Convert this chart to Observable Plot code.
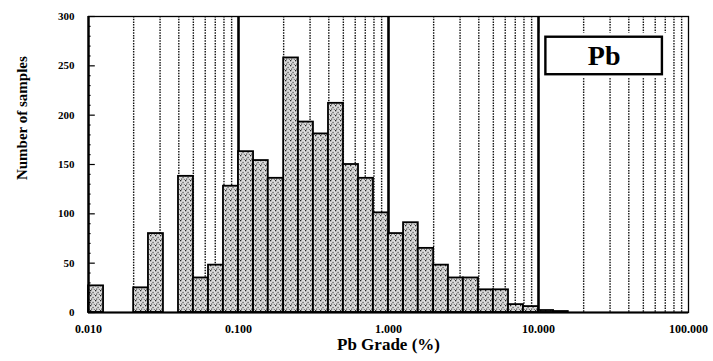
<!DOCTYPE html>
<html>
<head>
<meta charset="utf-8">
<script src="https://cdn.jsdelivr.net/npm/d3@7"></script>
<script src="https://cdn.jsdelivr.net/npm/@observablehq/plot@0.6"></script>
<style>
  html, body { margin: 0; padding: 0; background: #fff; }
</style>
</head>
<body>
<div id="chart"></div>
<script>
// Histogram bins (Pb grade, %): lower and upper edges, counts
const binLow  = [0.0100,0.0126,0.0158,0.0200,0.0251,0.0316,0.0398,0.0501,0.0631,0.0794,
                 0.100,0.126,0.158,0.200,0.251,0.316,0.398,0.501,0.631,0.794,
                 1.00,1.26,1.58,2.00,2.51,3.16,3.98,5.01,6.31,7.94,
                 10.0,12.6];
const binHigh = [0.0126,0.0158,0.0200,0.0251,0.0316,0.0398,0.0501,0.0631,0.0794,0.100,
                 0.126,0.158,0.200,0.251,0.316,0.398,0.501,0.631,0.794,1.00,
                 1.26,1.58,2.00,2.51,3.16,3.98,5.01,6.31,7.94,10.0,
                 12.6,15.8];
const counts  = [27,0,0,25,80,0,138,35,48,128,
                 163,154,136,258,193,181,212,150,136,101,
                 80,91,65,48,35,35,23,23,8,6,
                 2,1];

const xMajorTicks = [0.01, 0.1, 1, 10, 100];
const xTickLabels = ["0.010", "0.100", "1.000", "10.000", "100.000"];
const xMinorGrid = [0.02,0.03,0.04,0.05,0.06,0.07,0.08,0.09,
                    0.2,0.3,0.4,0.5,0.6,0.7,0.8,0.9,
                    2,3,4,5,6,7,8,9,
                    20,30,40,50,60,70,80,90];
const xMajorGrid = [0.1, 1, 10];
const yTicks = [0, 50, 100, 150, 200, 250, 300];
const yMinorTicks = [10,20,30,40,60,70,80,90,110,120,130,140,160,170,180,190,210,220,230,240,260,270,280,290];

const bins = binLow.map((lo, i) => ({lo, hi: binHigh[i], n: counts[i]})).filter(d => d.n > 0);

// Label box annotation (data units)
const labelText = ["Pb"];
const labelBg = [{x1: 10.3, x2: 77, y1: 237, y2: 283}];
const labelBox = [{x1: 11.2, x2: 67, y1: 241, y2: 279}];

const plot = Plot.plot({
  width: 713,
  height: 361,
  marginLeft: 88,
  marginRight: 25,
  marginTop: 16,
  marginBottom: 49,
  style: {fontFamily: "'Liberation Serif', serif", fontWeight: "bold", fontSize: "11px", background: "#fff", color: "#000"},
  x: {type: "log", domain: [0.01, 100], axis: null},
  y: {domain: [0, 300], axis: null},
  marks: [
    Plot.ruleX(xMinorGrid, {stroke: "#111", strokeWidth: 1.4, strokeDasharray: "1.5,1.2"}),
    Plot.ruleX(xMajorGrid, {stroke: "#000", strokeWidth: 2.6}),
    Plot.rect(labelBg, {x1: "x1", x2: "x2", y1: "y1", y2: "y2", fill: "#fff"}),
    Plot.rect(labelBox, {x1: "x1", x2: "x2", y1: "y1", y2: "y2", fill: "#fff", stroke: "#000", strokeWidth: 2.4}),
    Plot.text(labelText, {x: Math.sqrt(11.2 * 67), y: 260, text: d => d, fontSize: 28, fontWeight: "bold", fill: "#000"}),
    Plot.rect(bins, {x1: "lo", x2: "hi", y1: 0, y2: "n", fill: "url(#stipple)", stroke: "#000", strokeWidth: 1.8}),
    Plot.frame({stroke: "#000", strokeWidth: 1.3}),
    Plot.ruleX([0.01], {stroke: "#000", strokeWidth: 2.4}),
    Plot.ruleY([0], {stroke: "#000", strokeWidth: 2}),
    Plot.ruleY(yMinorTicks, {x1: 0.01, x2: 0.0104, stroke: "#000", strokeWidth: 1.2}),
    Plot.ruleY(yTicks, {x1: 0.01, x2: 0.0111, stroke: "#000", strokeWidth: 1.2}),
    Plot.axisY(yTicks, {anchor: "left", tickSize: 0, tickPadding: 14, fontSize: 11, fontWeight: "bold", label: null}),
    Plot.axisX(xMajorTicks, {anchor: "bottom", tickSize: 0, tickPadding: 12, fontSize: 12, fontWeight: "bold",
      tickFormat: d => xTickLabels[xMajorTicks.indexOf(d)], label: null}),
    Plot.text(["Number of samples"], {frameAnchor: "left", y: 197, rotate: -90, dx: -66, textAnchor: "middle",
      fontSize: 15, fontWeight: "bold", letterSpacing: 2, fill: "#000"}),
    Plot.text(["Pb Grade (%)"], {frameAnchor: "bottom", dy: 37, fontSize: 17, fontWeight: "bold", fill: "#000"})
  ]
});

// stippled fill pattern
const svg = d3.select(plot);
const defs = svg.insert("defs", ":first-child");
const pat = defs.append("pattern").attr("id", "stipple").attr("patternUnits", "userSpaceOnUse")
  .attr("width", 5).attr("height", 5);
pat.append("rect").attr("width", 5).attr("height", 5).attr("fill", "#dcdcdc");
pat.append("rect").attr("x", 0).attr("y", 0).attr("width", 1.3).attr("height", 1.3).attr("fill", "#222");
pat.append("rect").attr("x", 2.5).attr("y", 1.8).attr("width", 1.1).attr("height", 1.4).attr("fill", "#444");
pat.append("rect").attr("x", 1).attr("y", 3.6).attr("width", 1.2).attr("height", 1).attr("fill", "#333");
pat.append("rect").attr("x", 3.8).attr("y", 3.9).attr("width", 1).attr("height", 1).attr("fill", "#555");

document.getElementById("chart").appendChild(plot);
</script>
</body>
</html>
